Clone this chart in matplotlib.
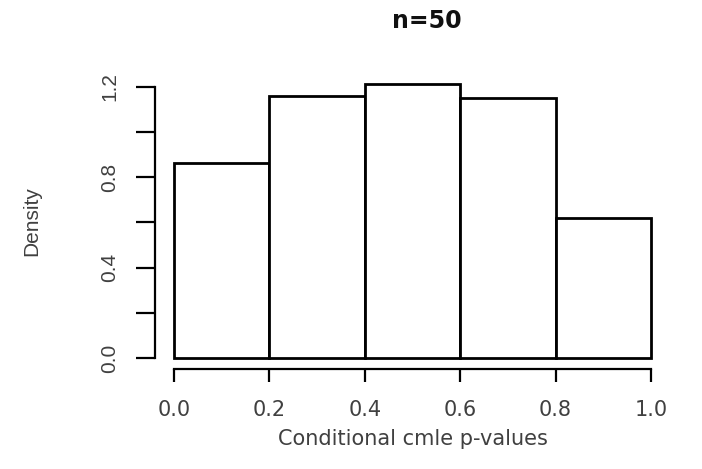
import matplotlib

matplotlib.use("Agg")
import matplotlib.pyplot as plt

# histogram of conditional cmle p-values, n=50 (density scale)
bin_edges = [0.0, 0.2, 0.4, 0.6, 0.8, 1.0]
densities = [0.86, 1.16, 1.21, 1.15, 0.62]
x_ticks = [0.0, 0.2, 0.4, 0.6, 0.8, 1.0]
y_ticks = [0.0, 0.2, 0.4, 0.6, 0.8, 1.0, 1.2]
y_labels = ["0.0", "", "0.4", "", "0.8", "", "1.2"]

TXT = "#404040"
WIDE = ["DejaVu Sans"]
NARROW = ["Liberation Sans", "DejaVu Sans"]

fig = plt.figure(figsize=(7.02, 4.69), dpi=100)
ax = fig.add_axes([0.2208, 0.2132, 0.7336, 0.6303])

widths = [b - a for a, b in zip(bin_edges[:-1], bin_edges[1:])]
ax.bar(bin_edges[:-1], densities, width=widths, align="edge",
       facecolor="white", edgecolor="black", linewidth=2.0)

ax.set_xlim(-0.04, 1.04)
ax.set_ylim(-0.048, 1.258)

for side in ("top", "right"):
    ax.spines[side].set_visible(False)
ax.spines["bottom"].set_bounds(0, 1)
ax.spines["left"].set_bounds(0, 1.2)
ax.spines["bottom"].set_linewidth(1.6)
ax.spines["left"].set_linewidth(1.6)

ax.set_xticks(x_ticks)
ax.set_xticklabels([f"{v:.1f}" for v in x_ticks], family=WIDE, fontsize=15, color=TXT)
ax.set_yticks(y_ticks)
ax.set_yticklabels(y_labels, rotation=90, va="center", family=NARROW, fontsize=15, color=TXT)
ax.tick_params(axis="x", length=9.5, width=1.6, pad=13)
ax.tick_params(axis="y", length=14, width=1.6, pad=12)

ax.set_xlabel("Conditional cmle p-values", family=WIDE, fontsize=15, color=TXT, labelpad=6)
ax.set_ylabel("Density", family=NARROW, fontsize=15, color=TXT, labelpad=42)

fig.text(427 / 702, 1 - 21 / 469, "n=50", ha="center", va="center",
         family=WIDE, fontsize=17, fontweight="bold", color="#111111")

fig.savefig("out.png", dpi=100, facecolor="white")
